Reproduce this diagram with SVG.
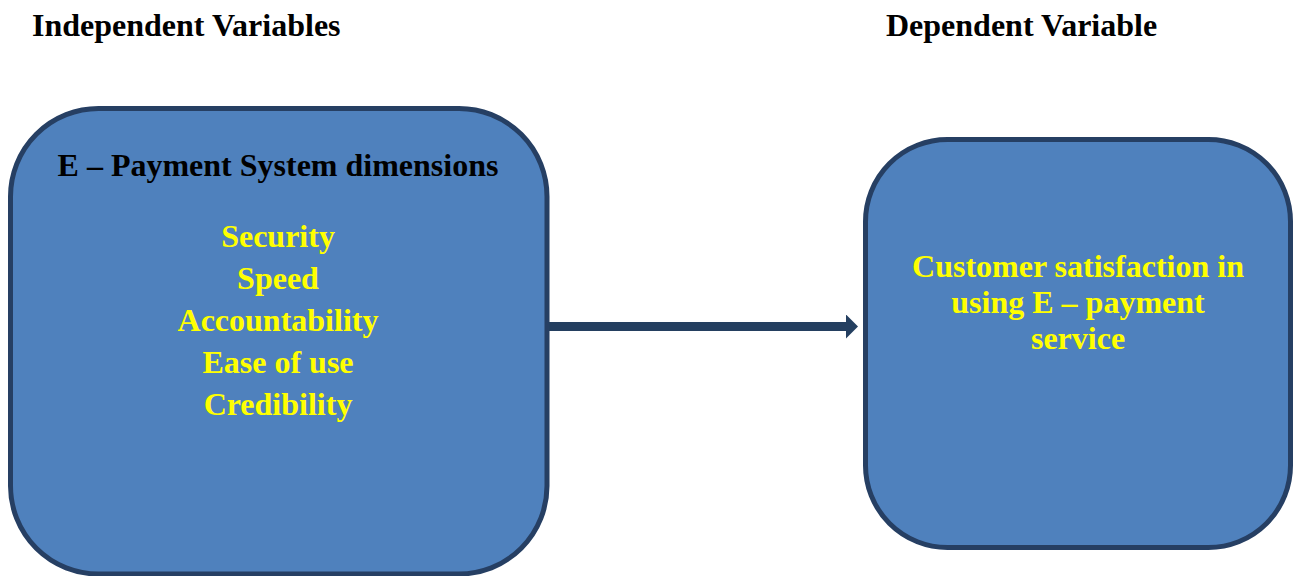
<svg xmlns="http://www.w3.org/2000/svg" width="1294" height="576" viewBox="0 0 1294 576">
<style>
.hdr{font-family:"Liberation Serif","Times New Roman",serif;font-weight:bold;font-size:32px;fill:#000}
.box{fill:#4F81BD;stroke:#263F63;stroke-width:5}
.ttl{font-family:"Liberation Serif","Times New Roman",serif;font-weight:bold;font-size:32px;fill:#000;text-anchor:middle}
.itm{font-family:"Liberation Serif","Times New Roman",serif;font-weight:bold;font-size:32px;fill:#FFFF00;text-anchor:middle}
</style>
<defs>
<marker id="ah" markerWidth="12" markerHeight="24" refX="1" refY="12" orient="auto" markerUnits="userSpaceOnUse" viewBox="0 0 12 24">
<path d="M0,0 L12,12 L0,24 Z" fill="#243F60"/>
</marker>
</defs>
<rect width="1294" height="576" fill="#fff"/>
<text class="hdr" x="32" y="36">Independent Variables</text>
<text class="hdr" x="886" y="36">Dependent Variable</text>
<g id="node-independent">
<rect class="box" x="10.5" y="108.5" width="536.5" height="465.5" rx="88" ry="88"/>
<text class="ttl" x="278" y="176">E – Payment System dimensions</text>
<text class="itm" x="278" y="247">Security</text>
<text class="itm" x="278" y="289">Speed</text>
<text class="itm" x="278" y="331">Accountability</text>
<text class="itm" x="278" y="373">Ease of use</text>
<text class="itm" x="278" y="415">Credibility</text>
</g>
<g id="node-dependent">
<rect class="box" x="865.5" y="139.5" width="425" height="408" rx="82" ry="82"/>
<text class="itm" x="1078" y="277">Customer satisfaction in</text>
<text class="itm" x="1078" y="313">using E – payment</text>
<text class="itm" x="1078" y="349">service</text>
</g>
<g id="connectors">
<line x1="549" y1="326.5" x2="847" y2="326.5" stroke="#243F60" stroke-width="9" marker-end="url(#ah)"/>
</g>
</svg>
